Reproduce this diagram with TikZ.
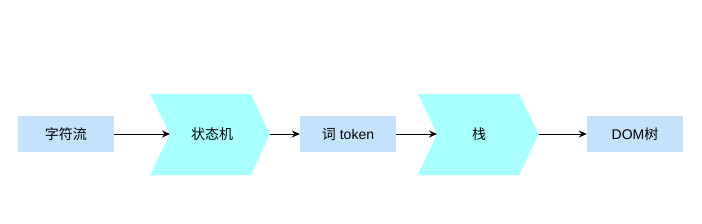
\documentclass[tikz,border=0pt]{standalone}
\usepackage{fontspec}
\setmainfont{Liberation Sans}
\newfontfamily\cjk{Noto Sans CJK SC}
\usetikzlibrary{arrows.meta}
\definecolor{boxblue}{HTML}{C4E2FC}
\definecolor{chevcyan}{HTML}{A8FFFF}
\begin{document}
\begin{tikzpicture}[x=1pt,y=-1pt,
  boxst/.style={fill=boxblue,draw=none,minimum width=96pt,minimum height=36pt,inner sep=0pt,font=\fontsize{14}{16}\selectfont},
  lbl/.style={font=\fontsize{14}{16}\selectfont\cjk},
  conn/.style={draw=black,line width=0.9pt,-{Stealth[length=8pt,width=7pt]}}]
\useasboundingbox (0,0) rectangle (702,223);
\node[boxst] (a) at (66,134) {\cjk 字符流};
\fill[chevcyan] (150,94) -- (251,94) -- (270,134) -- (251,175) -- (150,175) -- (170,134) -- cycle;
\coordinate (c1in) at (170,134);
\coordinate (c1out) at (270,134);
\node[lbl] (c1) at (212,134) {状态机};
\node[boxst] (b) at (348,134) {{\cjk 词} token};
\fill[chevcyan] (418,94) -- (519,94) -- (539,134) -- (519,175) -- (418,175) -- (437,134) -- cycle;
\coordinate (c2in) at (437,134);
\coordinate (c2out) at (539,134);
\node[lbl] (c2) at (479,134) {栈};
\node[boxst] (d) at (635,134) {DOM{\cjk 树}};
\draw[conn] (a.east) -- (c1in);
\draw[conn] (c1out) -- (b.west);
\draw[conn] (b.east) -- (c2in);
\draw[conn] (c2out) -- (d.west);
\end{tikzpicture}
\end{document}
